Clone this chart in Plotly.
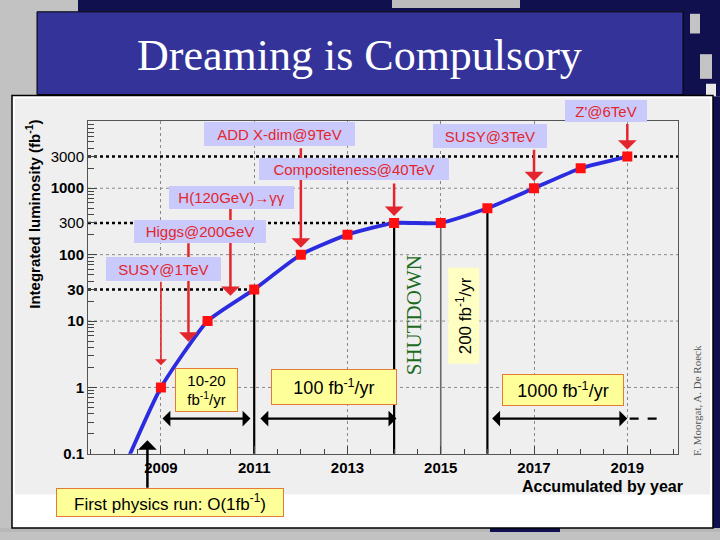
import math
import plotly.graph_objects as go

W, H = 720, 540

# integrated luminosity at the end of each year (fb^-1)
YEARS = [2009, 2010, 2011, 2012, 2013, 2014, 2015, 2016, 2017, 2018, 2019]
LUMI = [1, 10, 30, 100, 200, 300, 300, 500, 1000, 2000, 3000]
# the curve enters the plot from below the 0.1 line
CURVE_START_X = [2008.25]
CURVE_START_Y = [0.072]

X_RANGE = [2007.436, 2020.087]
Y_RANGE = [-1.0, 4.01]          # log10 units
X_TICKS = [2009, 2011, 2013, 2015, 2017, 2019]
Y_TICKS = [0.1, 1, 10, 30, 100, 300, 1000, 3000]
Y_TICK_TEXT = ["<b>0.1</b>", "<b>1</b>", "<b>10</b>", "<b>30</b>", "<b>100</b>", "300", "<b>1000</b>", "3000"]
Y_GRID = [1, 10, 100, 1000]
Y_MINOR = [m * 10 ** k for k in range(-1, 4) for m in range(2, 10)]

# thick dotted reference levels: level, last year (None = full width)
LEVELS = [30, 300, 3000]
LEVEL_END = [2011, 2015, None]

# vertical phase boundaries: year, value where the line stops
PHASE_YEARS = [2011, 2014, 2016]
PHASE_TOPS = [30, 300, 500]
GREY_PHASE_YEAR = 2015
GREY_PHASE_TOP = 300

# rate periods (double arrows) at y = RATE_Y
RATE_Y = 0.34
RATE_FROM = [2009, 2011.1, 2016.07]
RATE_TO = [2010.92, 2014.05, 2019]
RATE_DASH_X = [2019.05, 2019.78]

# discovery reach labels
REACH_TEXT = ["ADD X-dim@9TeV", "Compositeness@40TeV", "SUSY@3TeV", "Z'@6TeV",
              "H(120GeV)\u2192\u03b3\u03b3", "Higgs@200GeV", "SUSY@1TeV"]
# arrow tips: year, luminosity
REACH_X = [2012, 2014, 2017, 2019, 2010.49, 2009.59, 2009]
REACH_Y = [100, 300, 1000, 3000, 24, 4.9, 1.69]
FIRST_RUN_X = 2008.71
FIRST_RUN_Y = 0.16

RED = "#e3262d"
BLUE = "#2b2be0"
LAVENDER = "#c9c9fb"
YELLOW = "#ffff99"
ORANGE = "#e37a35"
SANS = "Liberation Sans, Arial, sans-serif"
SERIF = "Liberation Serif, Times New Roman, serif"


def px(x):
    return x / W


def py(y):
    return 1 - y / H


def rect(x0, y0, x1, y1, fill, line=None, lw=0):
    return dict(type="rect", xref="paper", yref="paper", layer="below",
                x0=px(x0), x1=px(x1), y0=py(y0), y1=py(y1),
                fillcolor=fill, line=dict(color=line or fill, width=lw))


def label(x, y, text, size, family=SANS, color="black", angle=0):
    return dict(xref="paper", yref="paper", x=px(x), y=py(y), xanchor="center",
                yanchor="middle", text=text, showarrow=False, textangle=angle,
                font=dict(family=family, size=size, color=color))


def box(x0, y0, x1, y1, text, bg, border=None, color="black", size=15,
        family=SANS, angle=0, bw=1):
    w, h = x1 - x0, y1 - y0
    if angle:
        w, h = h, w
    d = label((x0 + x1) / 2, (y0 + y1) / 2, text, size, family, color, angle)
    d.update(width=w - 2, height=h - 2, bgcolor=bg, bordercolor=border or bg,
             borderwidth=bw if border else 0, borderpad=0)
    return d


def arrow(x, v, length, color=RED, width=2.5, standoff=0):
    return dict(x=x, y=math.log10(v), xref="x", yref="y", text="", showarrow=True,
                ax=0, ay=length, arrowhead=1, arrowsize=1.25, arrowwidth=width,
                arrowcolor=color, standoff=standoff)


fig = go.Figure()

# reference levels
for lev, end in zip(LEVELS, LEVEL_END):
    fig.add_trace(go.Scatter(x=[X_RANGE[0], end or X_RANGE[1]], y=[lev, lev], mode="lines",
                             line=dict(color="black", width=2.5, dash="dot"),
                             hoverinfo="skip", showlegend=False))

# phase boundaries
for yr, top in zip(PHASE_YEARS, PHASE_TOPS):
    fig.add_trace(go.Scatter(x=[yr, yr], y=[0.1, top], mode="lines",
                             line=dict(color="black", width=2.2),
                             hoverinfo="skip", showlegend=False))
fig.add_trace(go.Scatter(x=[GREY_PHASE_YEAR, GREY_PHASE_YEAR], y=[0.1, GREY_PHASE_TOP], mode="lines",
                         line=dict(color="#6a6a6a", width=1.6),
                         hoverinfo="skip", showlegend=False))
fig.add_trace(go.Scatter(x=RATE_DASH_X, y=[RATE_Y, RATE_Y], mode="lines",
                         line=dict(color="black", width=2.2, dash="dash"),
                         hoverinfo="skip", showlegend=False))

# luminosity curve
fig.add_trace(go.Scatter(x=CURVE_START_X + YEARS, y=CURVE_START_Y + LUMI, mode="lines",
                         line=dict(color=BLUE, width=3.8, shape="spline", smoothing=0.5),
                         hoverinfo="skip", showlegend=False))
fig.add_trace(go.Scatter(x=YEARS, y=LUMI, mode="markers",
                         marker=dict(symbol="square", size=10, color="#ff1010"),
                         showlegend=False))

shapes = [
    # slide background
    rect(78, 0, 720, 12, "#10104e"),
    rect(683, 0, 720, 98, "#10104e"),
    rect(392, 0, 520, 8, "#bdbdbd"),
    rect(690, 14, 700, 34, "#c4c4c4"),
    rect(700, 55, 712, 80, "#c4c4c4"),
    rect(706, 85, 716, 98, "#e8e8e8"),
    rect(713, 98, 720, 540, "#10104e"),
    rect(0, 536, 720, 540, "#b8b8b8"),
    rect(490, 536, 560, 540, "#10104e"),
    # title box
    rect(37, 12, 683, 96, "#333399", "black", 1),
    # content panel
    rect(12, 97, 713, 536, "white", "black", 1.5),
    rect(15, 100, 710, 502, "#efefef"),
]
for g in Y_GRID:
    shapes.append(dict(type="line", xref="x domain", yref="y", x0=0, x1=1, y0=g, y1=g,
                       layer="below", line=dict(color="#8a8a8a", width=1, dash="dot")))

annotations = [label(359, 56, "Dreaming is Compulsory", 44, SERIF, "white")]

# arrows go first so that the label boxes sit on top of them
arrow_len = [-108, -41, -40, -34, -89, -100, -92]
for i in range(len(REACH_TEXT)):
    on_point = REACH_X[i] in YEARS
    annotations.append(arrow(REACH_X[i], REACH_Y[i], arrow_len[i],
                             width=1.6 if i == 6 else 2.5,
                             standoff=7 if on_point else 0))
annotations.append(arrow(FIRST_RUN_X, FIRST_RUN_Y, 49, color="black", width=2.5))
for a, b in zip(RATE_FROM, RATE_TO):
    annotations.append(dict(x=b, y=math.log10(RATE_Y), ax=a, ay=math.log10(RATE_Y),
                            xref="x", yref="y", axref="x", ayref="y", text="",
                            showarrow=True, arrowside="end+start", arrowhead=1,
                            startarrowhead=1, arrowsize=1.1, startarrowsize=1.1,
                            arrowwidth=2.4, arrowcolor="black"))

reach_boxes = [(203, 123, 356, 149), (258, 160, 450, 184), (432, 125, 548, 151),
               (564, 101, 648, 125), (168, 188, 295, 213), (133, 222, 267, 247),
               (105, 260, 222, 286)]
for (x0, y0, x1, y1), t in zip(reach_boxes, REACH_TEXT):
    annotations.append(box(x0, y0, x1, y1, t, LAVENDER, color=RED, size=15))

annotations += [
    box(175, 374, 238, 418, "10-20<br>fb<sup>-1</sup>/yr", YELLOW, ORANGE, size=15),
    box(271, 375, 397, 411, "100 fb<sup>-1</sup>/yr", YELLOW, ORANGE, size=18),
    box(502, 380, 624, 412, "1000 fb<sup>-1</sup>/yr", YELLOW, ORANGE, size=18),
    box(447, 272, 480, 370, "200 fb<sup>-1</sup>/yr", "#ffffc4", size=17, angle=-90),
    box(56, 496, 284, 525, "First physics run: O(1fb<sup>-1</sup>)", YELLOW, ORANGE, size=17),
    label(414, 320, "SHUTDOWN", 21, SERIF, "#1c6a1c", -90),
    label(697, 407, "F. Moorgat, A. De Roeck", 11, SERIF, "#555555", -90),
    label(33, 218, "<b>Integrated luminosity (fb<sup>-1</sup>)</b>", 15, angle=-90),
    label(602, 494, "<b>Accumulated by year</b>", 16),
]

fig.update_layout(
    width=W, height=H, autosize=False,
    margin=dict(l=0, r=0, t=0, b=0),
    paper_bgcolor="#c2c2c2",
    plot_bgcolor="rgba(0,0,0,0)",
    showlegend=False,
    shapes=shapes,
    annotations=annotations,
    xaxis=dict(domain=[px(88), px(678)], range=X_RANGE, tickmode="array",
               tickvals=X_TICKS, ticktext=["<b>%d</b>" % t for t in X_TICKS],
               ticks="inside", ticklen=8, tickcolor="#444", showline=True,
               linecolor="#555", linewidth=1, mirror=True, zeroline=False,
               showgrid=True, gridcolor="#8a8a8a", griddash="dot", gridwidth=1,
               minor=dict(tickmode="linear", tick0=2009, dtick=0.5, ticks="inside",
                          ticklen=5, tickcolor="#444", showgrid=False),
               tickfont=dict(family=SANS, size=15, color="black")),
    yaxis=dict(domain=[py(460.7), py(123)], type="log", range=Y_RANGE, tickmode="array",
               tickvals=Y_TICKS, ticktext=Y_TICK_TEXT, ticks="inside", ticklen=9,
               tickcolor="#444", showline=True, linecolor="#555", linewidth=1,
               mirror=True, zeroline=False, showgrid=False,
               minor=dict(tickmode="array", tickvals=Y_MINOR, ticks="inside",
                          ticklen=6, tickcolor="#444", showgrid=False),
               tickfont=dict(family=SANS, size=15, color="black")),
)

fig.write_html("out.html", config={"displayModeBar": False},
               post_script="document.body.style.margin='0';")
